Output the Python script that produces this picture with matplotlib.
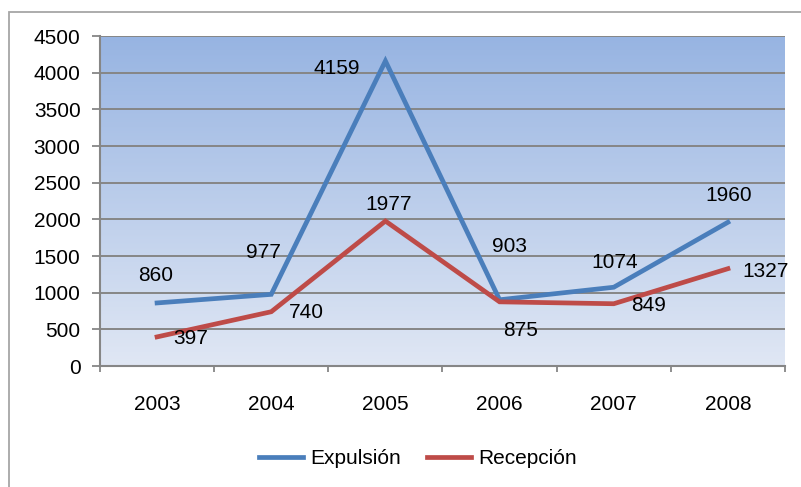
import matplotlib
matplotlib.use("Agg")
import matplotlib.pyplot as plt
import numpy as np
from matplotlib.patches import Rectangle
from matplotlib.colors import LinearSegmentedColormap

years = ["2003", "2004", "2005", "2006", "2007", "2008"]
expulsion = [860, 977, 4159, 903, 1074, 1960]
recepcion = [397, 740, 1977, 875, 849, 1327]
yticks = [0, 500, 1000, 1500, 2000, 2500, 3000, 3500, 4000, 4500]

# label offsets in pixels (dx, dy up)
exp_off = [(-1, 27), (-8, 42), (-49, -7), (10, 53), (1, 25), (1, 27)]
rec_off = [(34, -2), (35, -1), (3, 17), (21, -29), (35, -2), (38, -3)]

plt.rcParams['font.family'] = ['Liberation Sans', 'DejaVu Sans']
FS = 15

W, H = 801, 487
fig = plt.figure(figsize=(W/100, H/100), dpi=100)
ax = fig.add_axes([100/W, (H-366)/H, (785-100)/W, (366-36)/H])

# outer border
fig.patches.append(Rectangle((9/W, -0.1), 1.1, (H-12)/H + 0.1, transform=fig.transFigure,
                             fill=False, edgecolor='#A6A6A6', linewidth=1.3, clip_on=False))

# gradient background
cmap = LinearSegmentedColormap.from_list('g', ['#E0E7F4', '#97B4E2'])
grad = np.linspace(0, 1, 256).reshape(-1, 1)
ax.imshow(grad, aspect='auto', cmap=cmap, origin='lower',
          extent=[0, 1, 0, 1], transform=ax.transAxes, zorder=0)

x = np.arange(len(years))
ax.plot(x, expulsion, color='#4A7EBB', lw=3.4, solid_joinstyle='miter', label='Expulsión', zorder=3)
ax.plot(x, recepcion, color='#BE4B48', lw=3.4, solid_joinstyle='miter', label='Recepción', zorder=3)

for xi, v, (dx, dy) in zip(x, expulsion, exp_off):
    ax.annotate(str(v), (xi, v), xytext=(dx, dy), textcoords='offset pixels',
                ha='center', va='center', fontsize=FS, color='black', zorder=4)
for xi, v, (dx, dy) in zip(x, recepcion, rec_off):
    ax.annotate(str(v), (xi, v), xytext=(dx, dy), textcoords='offset pixels',
                ha='center', va='center', fontsize=FS, color='black', zorder=4)

ax.set_xlim(-0.5, len(years) - 0.5)
ax.set_ylim(0, 4500)
ax.set_yticks(yticks)
ax.set_yticklabels([str(t) for t in yticks], fontsize=FS)
ax.set_xticks(x)
ax.set_xticklabels(years, fontsize=FS)
ax.set_xticks(np.arange(-0.5, len(years)), minor=True)
ax.tick_params(axis='x', which='major', length=0, pad=21)
ax.tick_params(axis='x', which='minor', length=4.5, width=1.3, color='#868686', direction='out')
ax.tick_params(axis='y', length=6, width=1.3, color='#868686', direction='out', pad=8)

for t in yticks:
    ax.axhline(t, color='#868686', lw=1.4, zorder=1)

for s in ['top', 'right']:
    ax.spines[s].set_visible(False)
for s in ['left', 'bottom']:
    ax.spines[s].set_color('#868686')
    ax.spines[s].set_linewidth(1.5)
    ax.spines[s].set_zorder(2)

fig.legend(loc='center', bbox_to_anchor=(418/W, (H-459)/H), ncol=2, frameon=False,
           fontsize=FS, handlelength=2.1, handletextpad=0.35, columnspacing=1.25)

fig.savefig('out.png', dpi=100)
